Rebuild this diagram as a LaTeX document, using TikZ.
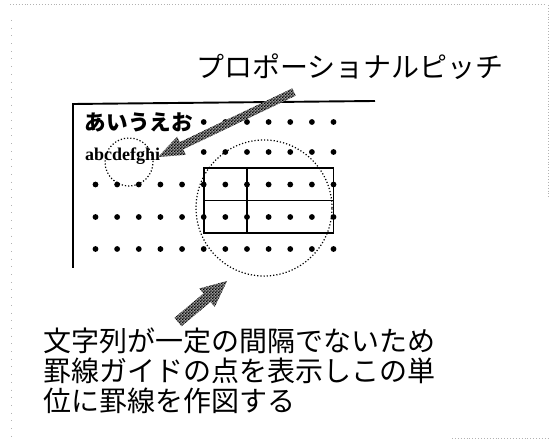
\documentclass[tikz,border=0pt]{standalone}
\usepackage{fontspec}
\newfontfamily\jp{Noto Sans CJK JP}
\newfontfamily\tms{Liberation Serif}
\usetikzlibrary{calc,patterns}
\pgfdeclarepatternformonly{finecheck}{\pgfpointorigin}{\pgfpoint{2.8pt}{2.8pt}}{\pgfpoint{2.8pt}{2.8pt}}{%
  \pgfpathrectangle{\pgfpointorigin}{\pgfpoint{1.4pt}{1.4pt}}%
  \pgfpathrectangle{\pgfpoint{1.4pt}{1.4pt}}{\pgfpoint{1.4pt}{1.4pt}}%
  \pgfusepath{fill}}
\newcommand\fatarrowshape[5]{%
  \coordinate (fa-h) at ($(#2)!#5!(#1)$);
  \path[fatarrow] ($(#1)!#3!90:(#2)$) -- ($(fa-h)!#3!90:(#2)$) -- ($(fa-h)!#4!90:(#2)$) -- (#2)
    -- ($(fa-h)!#4!-90:(#2)$) -- ($(fa-h)!#3!-90:(#2)$) -- ($(#1)!#3!-90:(#2)$) -- cycle;}
\begin{document}
\begin{tikzpicture}[x=1pt,y=-1pt,
  frameline/.style={line width=1.9pt},
  guide/.style={line width=1.6pt},
  ring/.style={dotted, line width=1.2pt},
  fatarrow/.style={fill=black!40, postaction={pattern=finecheck, pattern color=black}},
  scanedge/.style={gray!60, line width=0.6pt, dash pattern=on 0.7pt off 2.2pt},
  txt/.style={anchor=base west, inner sep=0pt}]
\useasboundingbox (0,0) rectangle (550,443);
% faint scan edges
\draw[scanedge] (10,4) -- (545,4);
\draw[scanedge] (548,5) -- (548,197);
\draw[scanedge] (452,438) -- (550,438);
\draw[scanedge, dash pattern=on 0.7pt off 7pt] (11,20) -- (11,436);
% frame
\coordinate (fTR) at (375,101);
\coordinate (fTL) at (73,104);
\coordinate (fBL) at (73,268);
\draw[frameline] (fTR) -- (fTL) -- (fBL);
% grid dots
\foreach \y in {122,152}
  \foreach \c in {5,...,11}
    \fill ({95.5+21.64*\c},\y) circle (2.9pt);
\foreach \y in {184.5,217,249}
  \foreach \c in {0,...,11}
    \fill ({95.5+21.64*\c},\y) circle (2.9pt);
% ruled lines
\coordinate (rTL) at (203.7,168);
\coordinate (rBR) at (333.5,233);
\coordinate (mL) at (203.7,200.5);
\coordinate (mR) at (333.5,200.5);
\coordinate (vT) at (247,168);
\coordinate (vB) at (247,233);
\draw[guide] (rTL) rectangle (rBR);
\draw[guide] (mL) -- (mR);
\draw[guide] (vT) -- (vB);
% texts
\node[txt, font=\jp\fontsize{28}{30}\selectfont] (title) at (196,77.5) {プロポーショナルピッチ};
\node[txt, font=\jp\bfseries\fontsize{21.6}{24}\selectfont] (kana) at (84.7,130.2) {あいうえお};
\node[txt, font=\tms\bfseries\fontsize{18}{20}\selectfont] (latin) at (85,160.5) {abcdefghi};
\node[txt, font=\jp\fontsize{28}{30}\selectfont] (l1) at (43,352) {文字列が一定の間隔でないため};
\node[txt, font=\jp\fontsize{28}{30}\selectfont] (l2) at (43,382) {罫線ガイドの点を表示しこの単};
\node[txt, font=\jp\fontsize{28}{30}\selectfont] (l3) at (43,412) {位に罫線を作図する};
% dotted circles
\node[draw, ring, circle, minimum size=48pt, inner sep=0pt] (small) at (129,162) {};
\node[draw, ring, circle, minimum size=136pt, inner sep=0pt] (big) at (264,208) {};
% fat arrows
\coordinate (a1tail) at (294,92);
\coordinate (a1tip) at (158,157);
\fatarrowshape{a1tail}{a1tip}{4pt}{10pt}{26pt}
\coordinate (a2tail) at (178,322);
\coordinate (a2tip) at (227,281);
\fatarrowshape{a2tail}{a2tip}{5.5pt}{12pt}{26pt}
\end{tikzpicture}
\end{document}
